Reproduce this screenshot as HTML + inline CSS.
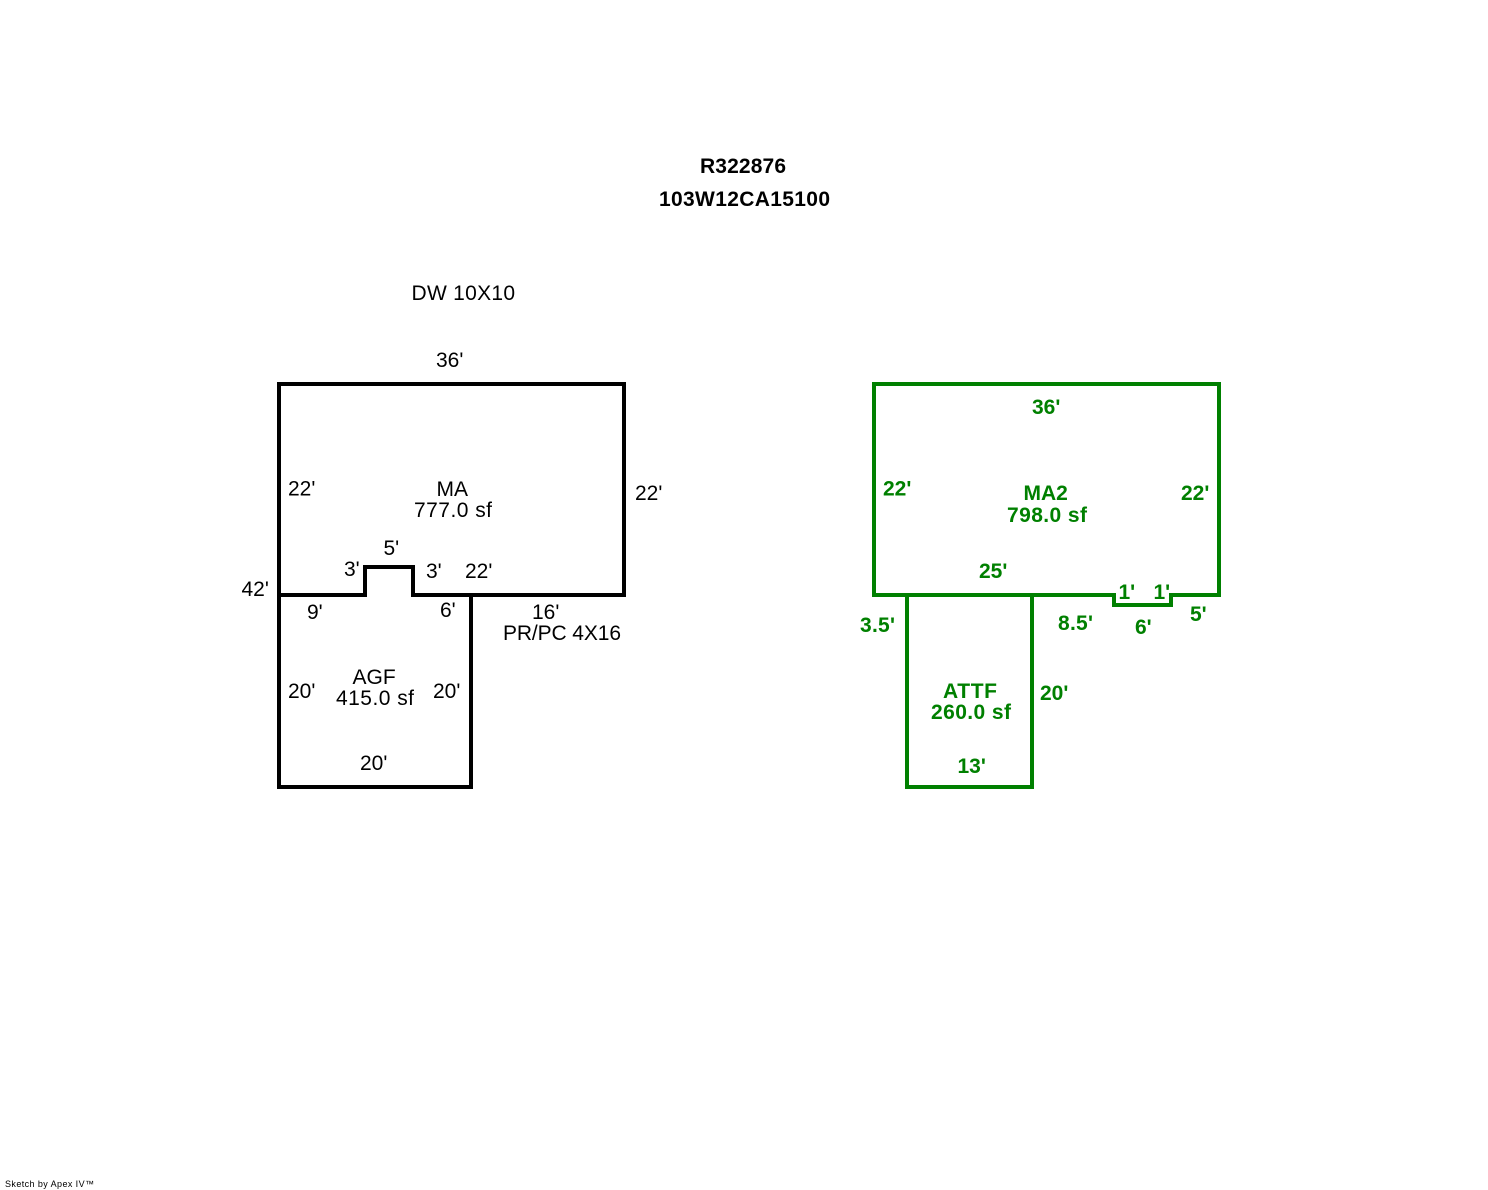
<!DOCTYPE html>
<html><head><meta charset="utf-8"><style>
html,body{margin:0;padding:0;background:#fff}
svg{display:block}
text{font-family:"Liberation Sans",Arial,sans-serif;font-size:21px;fill:#000}
.g text{fill:#008000;font-weight:bold;font-size:21px}
</style></head><body>
<svg width="1488" height="1190" viewBox="0 0 1488 1190" xmlns="http://www.w3.org/2000/svg">
<rect width="1488" height="1190" fill="#fff"/>
<g fill="none" stroke="#000" stroke-width="4" stroke-linejoin="miter">
<path d="M279 384H624V595H413V567H365V595H279Z"/>
<path d="M279 595V787H471V595"/>
</g>
<g fill="none" stroke="#008000" stroke-width="4" stroke-linejoin="miter">
<path d="M874 384H1219V595H1171V605H1114V595H874Z"/>
<path d="M907 595V787H1032V595"/>
</g>
<text x="700" y="173" style="font-weight:bold" textLength="86">R322876</text>
<text x="659" y="206" style="font-weight:bold" textLength="171">103W12CA15100</text>
<text x="411.500" y="300" textLength="103.500">DW 10X10</text>
<text x="436" y="367">36'</text>
<text x="288" y="495.500">22'</text>
<text x="635" y="500">22'</text>
<text x="436.500" y="496">MA</text>
<text x="414" y="517" textLength="78">777.0 sf</text>
<text x="383.500" y="555">5'</text>
<text x="344" y="576">3'</text>
<text x="426" y="578">3'</text>
<text x="465" y="578">22'</text>
<text x="241.500" y="596">42'</text>
<text x="307" y="619">9'</text>
<text x="440" y="617">6'</text>
<text x="532" y="619">16'</text>
<text x="503" y="640" textLength="118">PR/PC 4X16</text>
<text x="352.500" y="684">AGF</text>
<text x="336" y="705" textLength="78">415.0 sf</text>
<text x="288" y="698">20'</text>
<text x="433" y="698">20'</text>
<text x="360" y="770">20'</text>
<g class="g">
<text x="1032" y="414">36'</text>
<text x="883" y="495.500">22'</text>
<text x="1181" y="500">22'</text>
<text x="1023.500" y="500">MA2</text>
<text x="1007" y="522" textLength="80">798.0 sf</text>
<text x="979" y="578">25'</text>
<text x="1118.500" y="599">1'</text>
<text x="1153.500" y="599">1'</text>
<text x="1190" y="621">5'</text>
<text x="1135" y="634">6'</text>
<text x="1058" y="630" textLength="35">8.5'</text>
<text x="860" y="632" textLength="35">3.5'</text>
<text x="943" y="698" textLength="54">ATTF</text>
<text x="931" y="719" textLength="80">260.0 sf</text>
<text x="1040" y="700">20'</text>
<text x="957.500" y="773">13'</text>
</g>
<text x="5" y="1187" style="font-size:9px" textLength="89">Sketch by Apex IV™</text>
</svg>
</body></html>
